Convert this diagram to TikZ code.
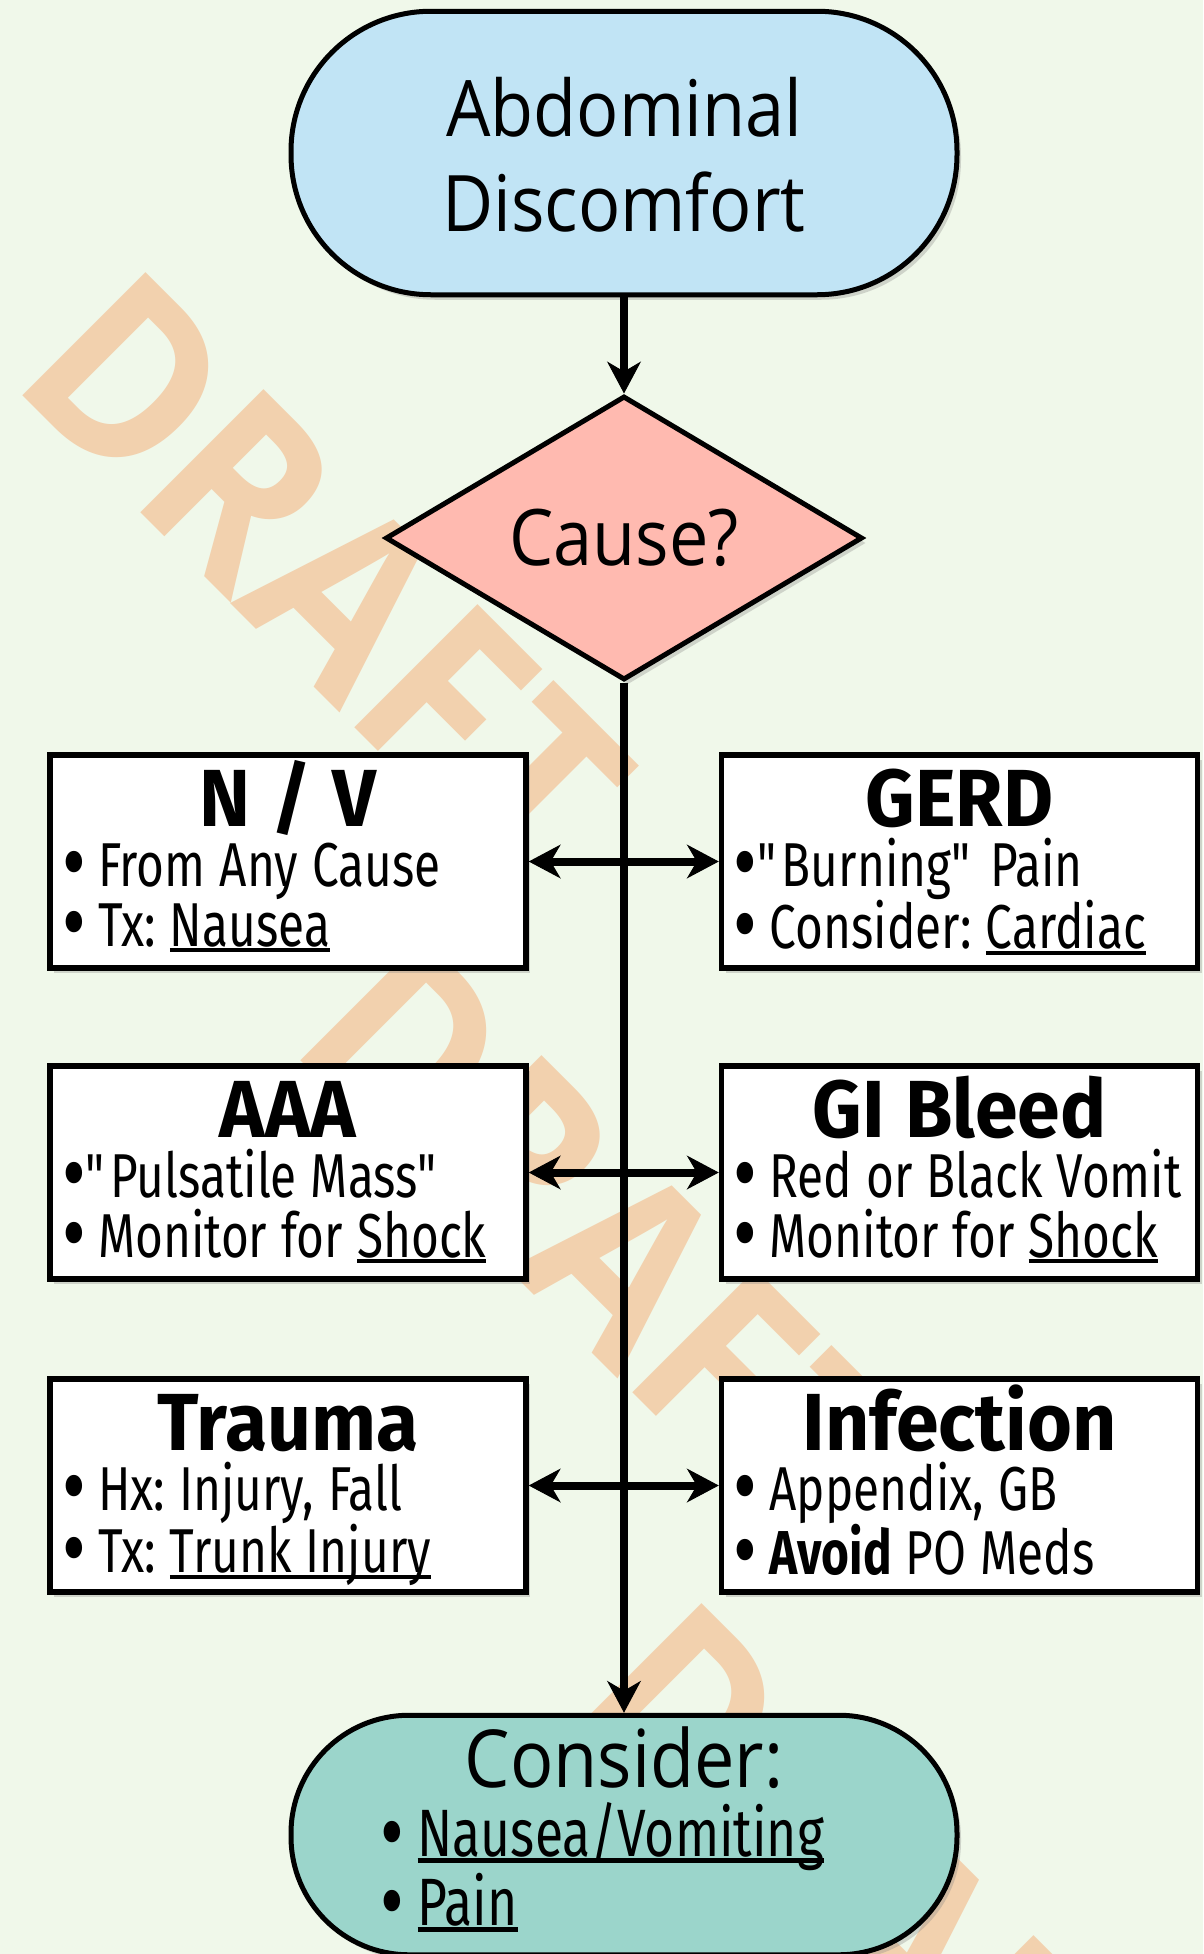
\documentclass[tikz,border=0pt]{standalone}
\usepackage{fontspec}
\setmainfont[FakeStretch=0.77]{Fira Sans}
\newfontfamily\termfont[FakeStretch=0.9]{Open Sans}
\newfontfamily\headfont[FakeStretch=0.95]{Fira Sans}
\newfontfamily\markfont[FakeStretch=0.92]{Open Sans}
\usetikzlibrary{positioning,arrows.meta,shapes.geometric,shadows}

\definecolor{bgcol}{RGB}{240,248,234}
\definecolor{startcol}{RGB}{193,228,245}
\definecolor{causecol}{RGB}{255,186,176}
\definecolor{endcol}{RGB}{155,213,203}
\definecolor{markcol}{RGB}{242,209,174}

\setlength{\lineskiplimit}{-200pt}
\frenchspacing

% underline that runs through descenders
\newcommand{\lnk}[1]{\setbox0\hbox{#1}\rlap{\rule[-0.1em]{\wd0}{0.065em}}\box0}
% big bullet and one bullet line
\newcommand{\bul}{\raisebox{-0.13em}{\fontsize{95}{60}\selectfont •}}
\newcommand{\bline}[2][0.2em]{\mbox{\spaceskip=14pt plus 2pt minus 1pt\relax\bul\hspace{#1}#2}\par}

\tikzset{
  castshadow/.style={drop shadow={opacity=0.3, shadow xshift=4pt, shadow yshift=-5pt}},
}

\begin{document}
\begin{tikzpicture}[x=1pt, y=-1pt,
    terminal/.style={rectangle, draw=black, line width=5pt, minimum width=666pt,
      inner sep=0pt, text width=600pt, castshadow},
    decision/.style={diamond, draw=black, line width=5pt, fill=causecol,
      minimum width=477pt, minimum height=284pt, inner sep=0pt, shape aspect=1.67,
      font=\termfont\fontsize{78}{95}\selectfont, castshadow},
    causebox/.style={rectangle, draw=black, line width=5.5pt, fill=white,
      text width=452pt, inner xsep=12pt, inner ysep=7pt,
      text height=64pt, text depth=135pt,
      font=\fontsize{62}{60}\selectfont, castshadow},
    link/.style={line width=8pt,
      -{Stealth[length=32pt, width=34pt, inset=10pt, line width=1pt]}},
    twoway/.style={line width=8pt,
      {Stealth[length=32pt, width=34pt, inset=10pt, line width=1pt]}-{Stealth[length=32pt, width=34pt, inset=10pt, line width=1pt]}},
    watermark/.style={text=markcol, inner sep=0pt,
      font=\markfont\bfseries\fontsize{244}{244}\selectfont}]

  \useasboundingbox (0,0) rectangle (1203,1954);
  \clip (0,0) rectangle (1203,1954);
  \fill[bgcol] (0,0) rectangle (1203,1954);

  % watermark
  \foreach \i in {0,1,2}
    \node[watermark, rotate=-45] (draft\i) at (326+278*\i, 575+665.5*\i) {DRAFT};

  % start and decision
  \node[terminal, fill=startcol, rounded corners=140pt, minimum height=283.5pt,
        align=center, text height=60pt, text depth=94pt,
        font=\termfont\fontsize{78}{95}\selectfont] (start) at (624,153)
        {Abdominal\\Discomfort};
  \node[decision] (cause) at (624,538) {Cause?};

  % causes
  \node[causebox] (nv) at (288,861.5) {{\centering\headfont\bfseries\fontsize{81}{60}\selectfont N / V\par}
    \bline{From Any Cause}
    \bline{Tx: \lnk{Nausea}}};
  \node[causebox] (gerd) at (959.5,861.5) {{\centering\headfont\bfseries\fontsize{81}{60}\selectfont GERD\par}
    \bline[0pt]{\textquotedbl Burning\textquotedbl{} Pain}
    \bline{Consider: \lnk{Cardiac}}};
  \node[causebox] (aaa) at (288,1172.5) {{\centering\headfont\bfseries\fontsize{81}{60}\selectfont AAA\par}
    \bline[0pt]{\textquotedbl Pulsatile Mass\textquotedbl}
    \bline{Monitor for \lnk{Shock}}};
  \node[causebox] (gibleed) at (959.5,1172.5) {{\centering\headfont\bfseries\fontsize{81}{60}\selectfont GI Bleed\par}
    \bline{Red or Black Vomit}
    \bline{Monitor for \lnk{Shock}}};
  \node[causebox] (trauma) at (288,1485.5) {{\centering\headfont\bfseries\fontsize{81}{60}\selectfont Trauma\par}
    \bline{Hx: Injury, Fall}
    \bline{Tx: \lnk{Trunk Injury}}};
  \node[causebox] (infection) at (959.5,1485.5) {{\centering\headfont\bfseries\fontsize{81}{60}\selectfont Infection\par}
    \bline{Appendix, GB}
    \bline{\textbf{Avoid} PO Meds}};

  % end
  \node[terminal, fill=endcol, rounded corners=118pt, minimum height=239.5pt,
        text width=487pt, text height=58pt, text depth=154pt,
        font=\termfont] (consider) at (624,1835)
        {{\centering\fontsize{80}{69}\selectfont Consider:\par}
         \rmfamily\fontsize{67}{69}\selectfont
         \bline{\lnk{Nausea/Vomiting}}
         \bline{\lnk{Pain}}};

  % connectors
  \draw[link] (start) -- (cause);
  \draw[link] (cause) -- (consider);
  \draw[twoway] (nv) -- (gerd);
  \draw[twoway] (aaa) -- (gibleed);
  \draw[twoway] (trauma) -- (infection);
\end{tikzpicture}
\end{document}
